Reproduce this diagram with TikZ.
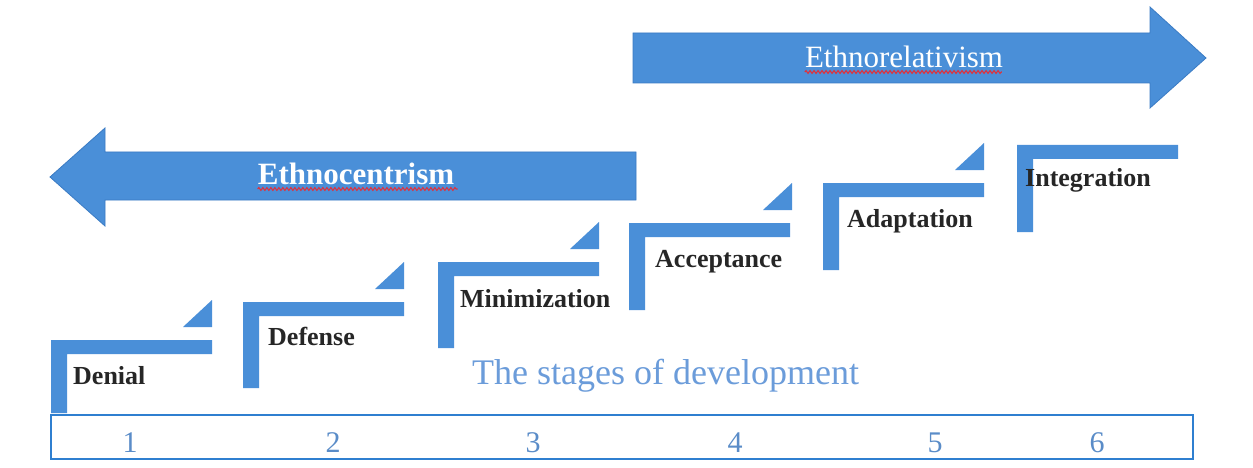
\documentclass[tikz,border=0pt]{standalone}
\usepackage{fontspec}
\setmainfont{Liberation Serif}
\usetikzlibrary{decorations.pathmorphing}
\definecolor{barblue}{HTML}{4A8FD8}
\definecolor{edgeblue}{HTML}{3A7BC4}
\definecolor{boxblue}{HTML}{2F7FD0}
\definecolor{capblue}{HTML}{6B9CDA}
\definecolor{numblue}{HTML}{5A8CC8}
\definecolor{squiggle}{HTML}{E0303A}
\begin{document}
\begin{tikzpicture}[x=1pt,y=-1pt,
  bigarrow/.style={fill=barblue,draw=edgeblue,line width=0.8pt,line join=miter},
  stair/.style={fill=barblue},
  wedge/.style={fill=barblue},
  stagelabel/.style={anchor=base west,inner sep=0pt,font=\fontsize{26}{30}\selectfont\bfseries,text=black!85},
  arrowtext/.style={anchor=base,inner sep=0pt,text=white},
  num/.style={anchor=base,inner sep=0pt,font=\fontsize{30}{32}\selectfont,text=numblue},
  spell/.style={draw=squiggle,line width=1.1pt,decorate,decoration={snake,amplitude=1.4pt,segment length=4pt}}
]
\useasboundingbox (0,0) rectangle (1253,468);
\fill[white] (0,0) rectangle (1253,468);

% Ethnocentrism: broad arrow pointing left
\draw[bigarrow] (636,152) -- (105,152) -- (105,128) -- (50,177) -- (105,226) -- (105,200) -- (636,200) -- cycle;
\node[arrowtext,font=\fontsize{31}{34}\selectfont\bfseries] (ec) at (356,185) {Ethnocentrism};
\draw[spell] (ec.base west) ++(0,4) -- ++(200,0);

% Ethnorelativism: broad arrow pointing right
\draw[bigarrow] (633,33) -- (1150,33) -- (1150,7) -- (1206,58) -- (1150,108) -- (1150,83) -- (633,83) -- cycle;
\node[arrowtext,font=\fontsize{31}{34}\selectfont] (er) at (904,68) {Ethnorelativism};
\draw[spell] (er.base west) ++(0,4) -- ++(197,0);

% Stair steps: L-shaped brackets rising to the right
\foreach \sx/\sy/\sh in {51/340/73, 243/302/86, 438/262/86, 629/223/87, 823/183/87, 1017/145/87}{
  \fill[stair] (\sx,\sy) -- ++(161,0) -- ++(0,14) -- ++(-145,0) -- ++(0,\sh-14) -- ++(-16,0) -- cycle;
}
% small corner wedges above steps 1-5
\foreach \rx/\sy in {212/340, 404/302, 599/262, 792/223, 984/183}{
  \fill[wedge] (\rx,\sy-13) -- (\rx,\sy-40) -- (\rx-29,\sy-13) -- cycle;
}

% Step labels
\node[stagelabel] (s1) at (73,384) {Denial};
\node[stagelabel] (s2) at (268,345) {Defense};
\node[stagelabel] (s3) at (460,307) {Minimization};
\node[stagelabel] (s4) at (655,267) {Acceptance};
\node[stagelabel] (s5) at (847,227) {Adaptation};
\node[stagelabel] (s6) at (1025,186) {Integration};

% Caption
\node[anchor=base west,inner sep=0pt,font=\fontsize{36}{40}\selectfont,text=capblue] (cap) at (472,384) {The stages of development};

% Numbered scale
\draw[boxblue,line width=1.6pt] (51,415) rectangle (1193,459);
\foreach \n/\nx in {1/130, 2/333, 3/533, 4/735, 5/935, 6/1097}{
  \node[num] (n\n) at (\nx,452) {\n};
}
\end{tikzpicture}
\end{document}
